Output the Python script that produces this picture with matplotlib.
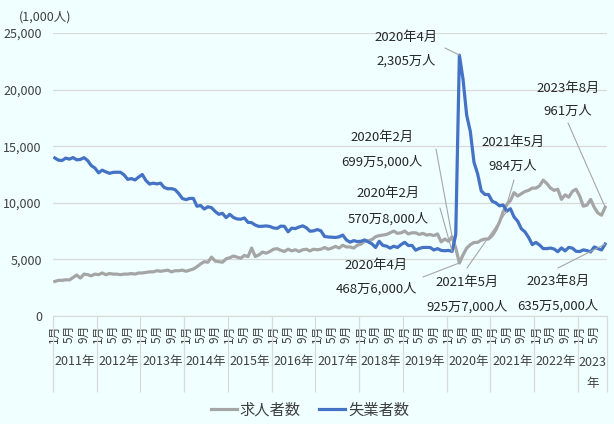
import numpy as np
import matplotlib
matplotlib.use("Agg")
import matplotlib.pyplot as plt
from matplotlib.transforms import blended_transform_factory

plt.rcParams['font.family'] = ['Noto Sans CJK JP', 'DejaVu Sans']

# monthly values, thousands of persons, 2011-01 .. 2023-08
years = list(range(2011, 2024))

job_openings = [
    3050, 3150, 3150, 3200, 3180, 3400, 3620, 3350, 3700, 3650, 3550, 3700,   # 2011
    3650, 3800, 3650, 3750, 3700, 3700, 3650, 3700, 3700, 3750, 3700, 3800,   # 2012
    3800, 3850, 3900, 3900, 4000, 3950, 4000, 4050, 3900, 4000, 4000, 4050,   # 2013
    3950, 4050, 4150, 4350, 4600, 4800, 4750, 5200, 4850, 4800, 4750, 5050,   # 2014
    5150, 5300, 5200, 5100, 5350, 5250, 6000, 5250, 5400, 5650, 5550, 5700,   # 2015
    5900, 5950, 5800, 5700, 5900, 5750, 5850, 5700, 5850, 5900, 5750, 5900,   # 2016
    5850, 5900, 6050, 5900, 6000, 6150, 6000, 6250, 6100, 6100, 6000, 6250,   # 2017
    6350, 6600, 6650, 6750, 7000, 7100, 7150, 7200, 7350, 7500, 7300, 7350,   # 2018
    7500, 7250, 7350, 7350, 7200, 7300, 7150, 7200, 7100, 7250, 6550, 6800,   # 2019
    6600, 6995, 6000, 4686, 5400, 6000, 6300, 6500, 6500, 6700, 6800, 6800,   # 2020
    7100, 7600, 8300, 9200, 9840, 10200, 10900, 10600, 10800, 11000, 11100, 11300,  # 2021
    11300, 11500, 12000, 11700, 11300, 11100, 11200, 10300, 10700, 10500, 11000, 11200,  # 2022
    10600, 9700, 9800, 10300, 9600, 9100, 8900, 9610,                         # 2023
]

unemployed = [
    13962, 13763, 13737, 13950, 13857, 13996, 13793, 13831, 13988, 13734, 13289, 13070,  # 2011
    12650, 12883, 12732, 12603, 12689, 12702, 12698, 12464, 12070, 12138, 12019, 12273,  # 2012
    12497, 11967, 11653, 11735, 11671, 11736, 11357, 11241, 11251, 11161, 10814, 10376,  # 2013
    10280, 10387, 10384, 9696, 9761, 9453, 9648, 9568, 9237, 8983, 9071, 8688,           # 2014
    8979, 8705, 8575, 8549, 8660, 8273, 8245, 8029, 7915, 7927, 7958, 7907,              # 2015
    7780, 7741, 7940, 7920, 7436, 7761, 7721, 7860, 7963, 7800, 7490, 7520,              # 2016
    7635, 7528, 7026, 6982, 6962, 6939, 6995, 7150, 6721, 6521, 6658, 6576,              # 2017
    6599, 6715, 6546, 6376, 6051, 6599, 6234, 6174, 5996, 6167, 6052, 6305,              # 2018
    6509, 6223, 6236, 5813, 5968, 6055, 6058, 6050, 5829, 5952, 5795, 5763,              # 2019
    5796, 5708, 7185, 23050, 20910, 17735, 16296, 13587, 12565, 11052, 10736, 10730,     # 2020
    10138, 9995, 9730, 9806, 9257, 9477, 8748, 8376, 7706, 7431, 6938, 6310,             # 2021
    6500, 6270, 5952, 5954, 6004, 5915, 5677, 6014, 5753, 6059, 5994, 5722,              # 2022
    5694, 5839, 5778, 5657, 6100, 5957, 5836, 6355,                                      # 2023
]

months = [m for y in years for m in range(1, 13)][:len(unemployed)]
month_year = [y for y in years for m in range(1, 13)][:len(unemployed)]

# (series, year, month, line1, line2, text centre px, leader start px)
callouts = [
    ("u", 2020, 4, "2020年4月", "2,305万人", (406, 37, 61), (445, 48)),
    ("j", 2020, 2, "2020年2月", "699万5,000人", (382, 137, 162), (436, 149)),
    ("u", 2020, 2, "2020年2月", "570万8,000人", (388, 193, 219), (440, 208)),
    ("j", 2020, 4, "2020年4月", "468万6,000人", (376, 265, 289), (423, 277)),
    ("u", 2021, 5, "2021年5月", "925万7,000人", (467, 282, 307), (467, 268)),
    ("j", 2021, 5, "2021年5月", "984万人", (513, 142, 166), (514, 180)),
    ("j", 2023, 8, "2023年8月", "961万人", (568, 88, 111), (568, 123)),
    ("u", 2023, 8, "2023年8月", "635万5,000人", (558, 281, 306), (558, 268)),
]

GRAY = "#A5A5A5"
BLUE = "#4472C4"
GRID = "#D9D9D9"
TXT = "#404040"
H = 424

fig = plt.figure(figsize=(6.14, 4.24), dpi=100)
fig.patch.set_facecolor("#F0FFFF")
ax = fig.add_axes([53 / 614, 1 - 316 / H, (607 - 53) / 614, (316 - 33) / H])
ax.set_facecolor("#F0FFFF")

x = np.arange(len(unemployed))
ax.plot(x, job_openings, color=GRAY, lw=2.3, label="求人者数", solid_joinstyle="round")
ax.plot(x, unemployed, color=BLUE, lw=2.3, label="失業者数", solid_joinstyle="round")

ax.set_xlim(-0.5, len(x) - 0.5)
ax.set_ylim(0, 25000)
ax.set_yticks(range(0, 25001, 5000))
ax.set_yticklabels([f"{v:,}" for v in range(0, 25001, 5000)], fontsize=9, color=TXT)
ax.grid(axis="y", color=GRID, lw=0.9)
ax.set_axisbelow(True)
for s in ["top", "right", "left"]:
    ax.spines[s].set_visible(False)
ax.spines["bottom"].set_color(GRID)
ax.tick_params(axis="y", length=0, pad=8)

# month ticks (1, 5, 9) and year separators
tick_idx = [i for i, m in enumerate(months) if m in (1, 5, 9)]
ax.set_xticks(tick_idx)
ax.set_xticklabels([f"{months[i]}月" for i in tick_idx], rotation=90, fontsize=8.5, color=TXT)
ax.tick_params(axis="x", which="major", length=0, pad=6)
bounds = [i - 0.5 for i, m in enumerate(months) if m == 1] + [len(x) - 0.5]
ax.set_xticks(bounds, minor=True)
ax.tick_params(axis="x", which="minor", length=55, color=GRID, width=0.9)

trans = blended_transform_factory(ax.transData, fig.transFigure)
for y in years:
    idx = [i for i, yy in enumerate(month_year) if yy == y]
    cx = (idx[0] + idx[-1]) / 2
    label = f"{y}年" if len(idx) == 12 else f"{y}\n年"
    ty = 1 - 361 / H if len(idx) == 12 else 1 - 373 / H
    ax.text(cx, ty, label, transform=trans, ha="center", va="center",
            fontsize=9, color=TXT, linespacing=1.9)

fig.text(45 / 614, 1 - 17 / H, "(1,000人)", ha="center", va="center", fontsize=9, color=TXT)

for ser, yy, mm, l1, l2, (cx, y1, y2), (sx, sy) in callouts:
    i = [k for k in range(len(x)) if month_year[k] == yy and months[k] == mm][0]
    val = unemployed[i] if ser == "u" else job_openings[i]
    ax.annotate("", xy=(i, val), xycoords="data", xytext=(sx, H - sy),
                textcoords="figure pixels",
                arrowprops=dict(arrowstyle="-", color="#A6A6A6", lw=0.8,
                                shrinkA=0, shrinkB=0))
    fig.text(cx / 614, 1 - y1 / H, l1, ha="center", va="center", fontsize=9.5, color="#262626")
    fig.text(cx / 614, 1 - y2 / H, l2, ha="center", va="center", fontsize=9.5, color="#262626")

fig.legend(loc="center", bbox_to_anchor=(0.505, 1 - 410 / H), ncol=2, frameon=False,
           fontsize=11, handlelength=1.7, columnspacing=1.2, handletextpad=0.2,
           labelcolor=TXT)

fig.savefig("out.png", dpi=100, facecolor=fig.get_facecolor())
